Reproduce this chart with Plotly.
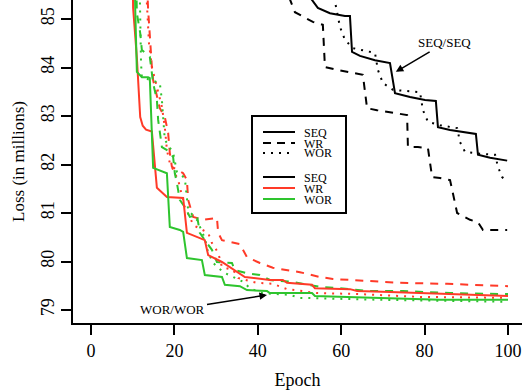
import plotly.graph_objects as go

# ---------------- data (epoch, loss in millions) ----------------
seq_seq_x = [52.5, 54.4, 57.3, 60.9, 62.1, 62.6, 64.5, 68.1, 71.7, 72.9, 76.5, 80.1, 82.7, 83.2, 86.1, 90.9, 92.3, 92.8, 95.7, 99.8]
seq_seq_y = [85.45, 85.23, 85.12, 85.06, 85.06, 84.32, 84.24, 84.15, 84.09, 83.47, 83.39, 83.33, 83.31, 82.77, 82.71, 82.65, 82.63, 82.20, 82.14, 82.08]

seq_wr_x = [47.5, 48.9, 53.2, 55.6, 56.1, 59.0, 65.2, 66.2, 68.6, 75.8, 76.0, 78.4, 80.8, 81.8, 83.7, 86.1, 87.8, 90.9, 92.8, 94.0, 97.4, 99.8]
seq_wr_y = [85.45, 85.14, 84.94, 84.88, 84.01, 83.95, 83.85, 83.16, 83.12, 83.02, 82.36, 82.36, 82.34, 81.74, 81.72, 81.68, 81.00, 80.86, 80.81, 80.65, 80.65, 80.65]

seq_wor_x = [58.3, 59.0, 59.7, 60.9, 62.8, 68.1, 68.8, 70.0, 72.4, 78.9, 79.6, 80.8, 83.7, 87.8, 88.5, 89.7, 93.3, 96.9, 97.6, 98.6, 99.8]
seq_wor_y = [85.45, 85.14, 84.84, 84.57, 84.40, 84.30, 83.95, 83.68, 83.54, 83.49, 83.12, 82.88, 82.81, 82.75, 82.46, 82.26, 82.22, 82.20, 81.95, 81.74, 81.65]

wr_seq_x = [9.9, 10.1, 11.0, 11.8, 12.4, 13.2, 14.6, 15.8, 18.2, 21.3, 22.1, 23.0, 26.1, 27.3, 28.1, 30.5, 31.4, 36.9, 42.9, 46.0, 47.0, 53.0, 53.7, 62.1, 63.8, 71.7, 85.4, 100.0]
wr_seq_y = [86.5, 85.23, 84.2, 82.98, 82.80, 82.72, 82.68, 81.52, 81.33, 81.31, 81.31, 80.59, 80.48, 80.44, 80.13, 80.03, 79.99, 79.68, 79.62, 79.62, 79.56, 79.52, 79.45, 79.43, 79.39, 79.37, 79.33, 79.29]

wr_wr_x = [13.3, 13.7, 14.6, 14.9, 16.5, 17.7, 18.5, 18.9, 19.4, 22.1, 23.0, 23.3, 24.5, 26.9, 30.2, 30.5, 31.4, 35.7, 37.4, 40.5, 43.6, 50.1, 54.9, 58.0, 62.1, 70.0, 74.1, 85.4, 98.1, 100.0]
wr_wr_y = [86.0, 85.19, 84.01, 83.74, 83.16, 82.98, 82.65, 82.24, 81.95, 81.82, 81.68, 81.27, 80.92, 80.86, 80.90, 80.59, 80.44, 80.36, 80.09, 79.97, 79.87, 79.78, 79.68, 79.64, 79.62, 79.58, 79.56, 79.54, 79.49, 79.49]

wr_wor_x = [13.0, 13.4, 13.9, 14.6, 15.8, 17.0, 17.7, 18.2, 18.9, 20.9, 22.5, 23.7, 24.5, 28.1, 29.0, 30.5, 31.4, 34.1, 35.3, 39.8, 43.6, 47.0, 54.2, 63.8, 78.9, 100.0]
wr_wor_y = [86.0, 85.19, 84.50, 84.01, 83.60, 83.19, 82.77, 82.30, 82.03, 81.68, 81.12, 80.92, 80.75, 80.59, 80.38, 80.18, 79.89, 79.82, 79.66, 79.56, 79.54, 79.43, 79.35, 79.33, 79.27, 79.25]

wor_seq_x = [10.4, 10.6, 11.0, 12.2, 13.7, 14.1, 14.9, 17.7, 18.2, 18.9, 21.3, 22.1, 23.0, 26.6, 27.3, 31.4, 32.1, 35.7, 37.4, 42.2, 42.9, 53.0, 53.7, 61.4, 79.6, 83.7, 100.0]
wor_seq_y = [86.5, 85.23, 83.91, 83.80, 83.80, 83.78, 81.93, 81.85, 81.82, 80.71, 80.65, 80.61, 80.07, 80.03, 79.72, 79.68, 79.52, 79.49, 79.41, 79.39, 79.35, 79.35, 79.29, 79.27, 79.23, 79.21, 79.21]

wor_wr_x = [10.8, 11.0, 11.8, 12.2, 14.1, 14.9, 15.8, 16.1, 17.0, 18.9, 19.7, 20.1, 20.6, 21.3, 22.5, 23.7, 25.4, 26.1, 27.8, 29.0, 30.2, 33.8, 34.5, 37.4, 40.5, 42.9, 44.8, 48.4, 52.0, 55.6, 59.7, 62.8, 66.9, 74.8, 78.9, 86.1, 97.6, 100.0]
wor_wr_y = [86.0, 85.12, 84.71, 84.36, 84.22, 83.68, 83.33, 82.92, 82.36, 82.26, 82.15, 81.82, 81.62, 81.27, 81.12, 80.92, 80.96, 80.59, 80.38, 80.24, 79.99, 79.97, 79.82, 79.76, 79.72, 79.62, 79.60, 79.58, 79.52, 79.47, 79.45, 79.43, 79.39, 79.39, 79.37, 79.35, 79.33, 79.33]

wor_wor_x = [11.6, 11.8, 12.0, 12.2, 16.5, 17.0, 17.3, 17.7, 19.7, 20.6, 22.5, 23.0, 23.3, 25.4, 26.1, 27.3, 28.1, 29.3, 31.7, 35.0, 36.5, 38.1, 41.0, 47.7, 50.1, 69.3, 100.0]
wor_wor_y = [86.0, 84.92, 84.09, 83.80, 83.68, 83.33, 82.98, 82.51, 82.24, 81.85, 81.72, 81.37, 81.06, 80.86, 80.71, 80.48, 80.18, 79.97, 79.78, 79.64, 79.58, 79.45, 79.35, 79.31, 79.25, 79.21, 79.17]

x_ticks = [0, 20, 40, 60, 80, 100]
y_ticks = [79, 80, 81, 82, 83, 84, 85]
legend_names = ["SEQ", "WR", "WOR"]

# ---------------- styles ----------------
BLACK = "#000000"
RED = "#ff3a28"
GREEN = "#2ec42e"
DASH = "8px,7px"
DOT = "2px,6px"
FONT = "Liberation Serif"

series = [
    (seq_seq_x, seq_seq_y, BLACK, "solid"),
    (seq_wr_x, seq_wr_y, BLACK, DASH),
    (seq_wor_x, seq_wor_y, BLACK, DOT),
    (wr_wr_x, wr_wr_y, RED, DASH),
    (wr_wor_x, wr_wor_y, RED, DOT),
    (wor_wr_x, wor_wr_y, GREEN, DASH),
    (wor_wor_x, wor_wor_y, GREEN, DOT),
    (wr_seq_x, wr_seq_y, RED, "solid"),
    (wor_seq_x, wor_seq_y, GREEN, "solid"),
]

fig = go.Figure()
for xs, ys, col, dash in series:
    fig.add_trace(go.Scatter(x=xs, y=ys, mode="lines",
                             line=dict(color=col, width=2, dash=dash),
                             showlegend=False, hoverinfo="skip"))

W, H = 522, 390
ML, MR, MT, MB = 73, 0, 0, 67
PW, PH = W - ML - MR, H - MT - MB


def px(xp):
    return (xp - ML) / PW


def py(yp):
    return 1 - (yp - MT) / PH


shapes = [dict(type="rect", xref="paper", yref="paper",
               x0=px(252), x1=px(346), y0=py(213), y1=py(116),
               line=dict(color="black", width=2), fillcolor="white")]
annotations = []
leg_rows_line = [132, 143, 153, 177, 188, 199]
leg_styles = [(BLACK, "solid"), (BLACK, "dash"), (BLACK, "dot"),
              (BLACK, "solid"), (RED, "solid"), (GREEN, "solid")]
for i, (yy, (col, dsh)) in enumerate(zip(leg_rows_line, leg_styles)):
    shapes.append(dict(type="line", xref="paper", yref="paper",
                       x0=px(263), x1=px(295), y0=py(yy), y1=py(yy),
                       line=dict(color=col, width=2,
                                 dash={"solid": "solid", "dash": "8px,6px", "dot": "2px,6px"}[dsh])))
    annotations.append(dict(xref="paper", yref="paper", x=px(302), y=py(yy + 0.5),
                            xanchor="left", yanchor="middle", showarrow=False,
                            text=legend_names[i % 3],
                            font=dict(family=FONT, size=12, color="black")))

annotations.append(dict(x=73.1, y=83.91, xref="x", yref="y", text="SEQ/SEQ",
                        showarrow=True, arrowhead=2, arrowsize=1, arrowwidth=1.5,
                        arrowcolor="black", ax=49, ay=-29, standoff=0,
                        font=dict(family=FONT, size=13, color="black")))
annotations.append(dict(x=42.2, y=79.31, xref="x", yref="y", text="WOR/WOR",
                        showarrow=True, arrowhead=2, arrowsize=1, arrowwidth=1.5,
                        arrowcolor="black", ax=-94, ay=15, standoff=0,
                        font=dict(family=FONT, size=13, color="black")))

fig.update_layout(
    width=W, height=H,
    margin=dict(l=ML, r=MR, t=MT, b=MB),
    paper_bgcolor="white", plot_bgcolor="white",
    font=dict(family=FONT, size=18, color="black"),
    shapes=shapes, annotations=annotations,
    showlegend=False,
)
fig.update_xaxes(range=[(ML - 91) / 4.17, (W - 91) / 4.17],
                 tickvals=x_ticks, ticktext=[str(v) for v in x_ticks],
                 showline=True, linecolor="black", linewidth=2,
                 ticks="outside", ticklen=10, tickwidth=2, tickcolor="black",
                 showgrid=False, zeroline=False,
                 tickfont=dict(family=FONT, size=18),
                 title=dict(text="Epoch", font=dict(family=FONT, size=18), standoff=18))
fig.update_yaxes(range=[85 - (323 - 19) / 48.5, 85 + 19 / 48.5],
                 tickvals=y_ticks, ticktext=[str(v) for v in y_ticks],
                 tickangle=-90,
                 showline=True, linecolor="black", linewidth=2,
                 ticks="outside", ticklen=10, tickwidth=2, tickcolor="black",
                 showgrid=False, zeroline=False,
                 tickfont=dict(family=FONT, size=18),
                 title=dict(text="Loss (in millions)", font=dict(family=FONT, size=17), standoff=9))

fig.write_html("out.html")
